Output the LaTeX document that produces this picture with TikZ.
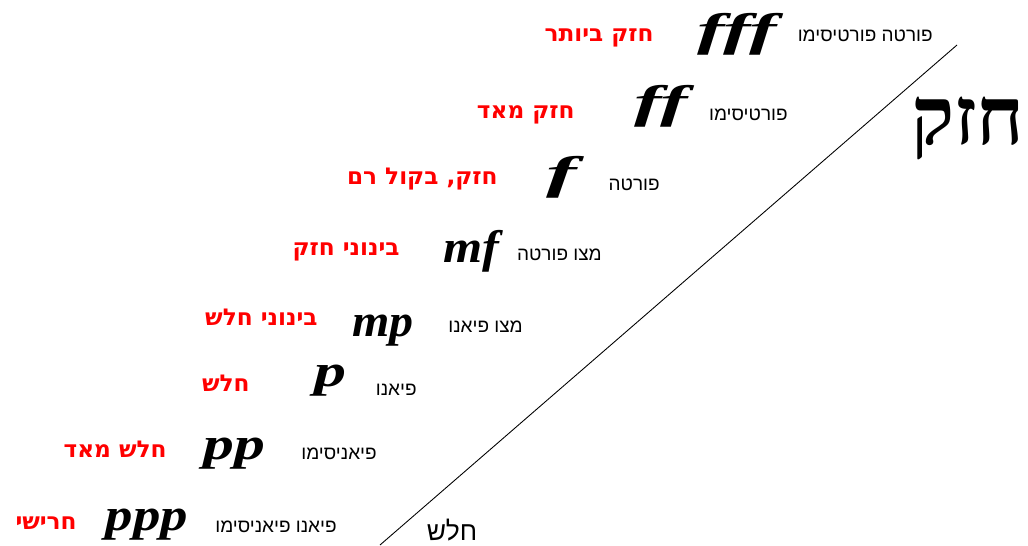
\documentclass[tikz,border=0pt]{standalone}
\usepackage{fontspec}
\usepackage{graphicx}
\setmainfont{Liberation Sans}
\newfontfamily\hebsans[Script=Hebrew]{Liberation Sans}
\newfontfamily\hebbold[Script=Hebrew]{DejaVu Sans}
\newfontfamily\hebserif[Script=Hebrew]{Liberation Serif}
\newfontfamily\dynfont{Liberation Serif}
\TeXXeTstate=1

\tikzset{
  termlabel/.style={font=\hebsans\fontsize{10.8}{12}\selectfont, anchor=base east, inner sep=0pt},
  redlabel/.style={font=\hebbold\bfseries\fontsize{13.2}{14}\selectfont, text=red, anchor=base east, inner sep=0pt},
  dynmark/.style={font=\dynfont\bfseries\itshape\fontsize{26}{26}\selectfont, inner sep=0pt},
}

\begin{document}
\begin{tikzpicture}[x=0.02cm,y=-0.02cm]
  \useasboundingbox (0,0) rectangle (1028,545);
  % rows: meaning / dynamic mark / term (labels sit on their baselines)
  \foreach \i/\ry/\rx/\rtext/\dx/\dy/\ds/\dtext/\tx/\ty/\ttext in {
      1/41/654/{חזק ביותר}/737/34/1.8/fff/933/41/{פורטה פורטיסימו},
      2/118/575/{חזק מאד}/661/106/1.8/ff/788/120/{פורטיסימו},
      3/184/498/{חזק, בקול רם}/562/177/2.0/f/660/190/{פורטה},
      4/255/400/{בינוני חזק}/471/251/1.1/mf/602/260/{מצו פורטה},
      5/325/318/{בינוני חלש}/383/331/1.05/mp/523/332/{מצו פיאנו},
      6/391/250/{חלש}/330/381/1.4/p/417/395/{פיאנו},
      7/457/167/{חלש מאד}/234/454/1.35/pp/377/459/{פיאניסימו},
      8/529/77/{חרישי}/147/525/1.2/ppp/337/532/{פיאנו פיאניסימו}} {
    \node[redlabel] (meaning\i) at (\rx,\ry) {\beginR\rtext\endR};
    \node[dynmark] (mark\i) at (\dx,\dy) {\scalebox{\ds}[1]{\dtext}};
    \node[termlabel] (term\i) at (\tx,\ty) {\beginR\ttext\endR};
  }
  % scale line
  \coordinate (soft) at (380,545);
  \coordinate (loud) at (957,45);
  \draw[line width=0.5pt] (soft) -- (loud);
  \node[font=\hebserif\bfseries\fontsize{46}{46}\selectfont, inner sep=0pt] (strong) at (968,128) {\beginR חזק\endR};
  \node[font=\hebsans\fontsize{15}{15}\selectfont, inner sep=0pt] (weak) at (452,530) {\beginR חלש\endR};
\end{tikzpicture}
\end{document}
